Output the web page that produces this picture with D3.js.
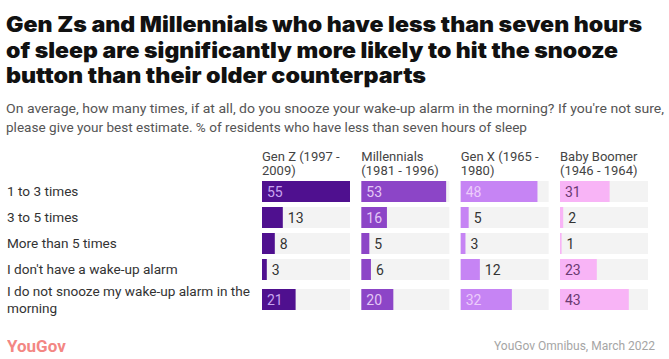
<!DOCTYPE html>
<html>
<head>
<meta charset="utf-8">
<script src="https://cdn.jsdelivr.net/npm/d3@7"></script>
<style>
  body { margin: 0; background: #fff; }
  svg { display: block; font-family: Roboto, "Liberation Sans", sans-serif; }
</style>
</head>
<body>
<svg id="chart" width="669" height="359"></svg>
<script>
const titleLines = [
  "Gen Zs and Millennials who have less than seven hours",
  "of sleep are significantly more likely to hit the snooze",
  "button than their older counterparts",
];
const subtitleLines = [
  "On average, how many times, if at all, do you snooze your wake-up alarm in the morning? If you're not sure,",
  "please give your best estimate. % of residents who have less than seven hours of sleep",
];
const answers = [
  ["1 to 3 times"],
  ["3 to 5 times"],
  ["More than 5 times"],
  ["I don't have a wake-up alarm"],
  ["I do not snooze my wake-up alarm in the", "morning"],
];
const generations = [
  ["Gen Z (1997 -", "2009)"],
  ["Millennials", "(1981 - 1996)"],
  ["Gen X (1965 -", "1980)"],
  ["Baby Boomer", "(1946 - 1964)"],
];
const genZ = [55, 13, 8, 3, 21];
const millennials = [53, 16, 5, 6, 20];
const genX = [48, 5, 3, 12, 32];
const babyBoomer = [31, 2, 1, 23, 43];
const source = "YouGov Omnibus, March 2022";

const series = [genZ, millennials, genX, babyBoomer];
const barColors = ["#4f108f", "#8c45c7", "#c684f4", "#f8b4f6"];
const insideText = ["#c8a4ef", "#e3c7f6", "#ecccfb", "#6b3a72"];

const svg = d3.select("#chart");

// title
svg.append("g")
  .selectAll("text")
  .data(titleLines)
  .join("text")
  .attr("x", 6)
  .attr("y", (d, i) => 32 + i * 25.5)
  .attr("font-family", "Inter, Roboto, sans-serif")
  .attr("font-weight", 900)
  .attr("font-size", 21)
  .attr("fill", "#111")
  .attr("textLength", (d, i) => [636, 612, 420][i])
  .attr("lengthAdjust", "spacingAndGlyphs")
  .text((d) => d);

svg.append("g")
  .selectAll("text")
  .data(subtitleLines)
  .join("text")
  .attr("x", 6)
  .attr("y", (d, i) => 113 + i * 18.5)
  .attr("font-size", 13)
  .attr("fill", "#555")
  .attr("textLength", (d, i) => [658, 521][i])
  .attr("lengthAdjust", "spacingAndGlyphs")
  .text((d) => d);

// layout
const rowTops = [181, 207, 233, 259, 289];
const barH = 21;
const colX = d3.scalePoint().domain(d3.range(4)).range([262, 560]);
const x = d3.scaleLinear().domain([0, 55]).range([0, 88]);

// headers
const head = svg.append("g")
  .selectAll("g")
  .data(generations)
  .join("g")
  .attr("transform", (d, i) => `translate(${colX(i)},0)`);
head.selectAll("text")
  .data((d) => d)
  .join("text")
  .attr("y", (d, i) => 161 + i * 14)
  .attr("font-size", 13)
  .attr("fill", "#444")
  .text((d) => d);

// row labels
const rows = svg.append("g")
  .selectAll("g")
  .data(answers)
  .join("g")
  .attr("transform", (d, i) => `translate(7,${rowTops[i] + barH / 2})`);
rows.selectAll("text")
  .data((d) => d)
  .join("text")
  .attr("y", (d, i, n) => (i - (n.length - 1) / 2) * 17 + 4.5)
  .attr("font-size", 13.6)
  .attr("fill", "#333")
  .text((d) => d);

// bars
series.forEach((vals, c) => {
  const g = svg.append("g").attr("transform", `translate(${colX(c)},0)`);
  g.selectAll("rect.track")
    .data(vals)
    .join("rect")
    .attr("class", "track")
    .attr("x", 0)
    .attr("y", (d, i) => rowTops[i])
    .attr("width", x(55))
    .attr("height", barH)
    .attr("fill", "#f3f3f3");
  g.selectAll("rect.bar")
    .data(vals)
    .join("rect")
    .attr("class", "bar")
    .attr("x", 0)
    .attr("y", (d, i) => rowTops[i])
    .attr("width", (d) => x(d))
    .attr("height", barH)
    .attr("fill", barColors[c]);
  g.selectAll("text")
    .data(vals)
    .join("text")
    .attr("x", (d) => (d >= 15 ? 5 : x(d) + 5))
    .attr("y", (d, i) => rowTops[i] + barH / 2 + 5)
    .attr("font-size", 14)
    .attr("fill", (d) => (d >= 15 ? insideText[c] : "#333"))
    .text((d) => d);
});

// footer
svg.append("text")
  .attr("x", 655)
  .attr("y", 350)
  .attr("text-anchor", "end")
  .attr("font-size", 12)
  .attr("fill", "#a5a5a5")
  .text(source);

svg.append("text")
  .attr("x", 7)
  .attr("y", 352)
  .attr("font-size", 17)
  .attr("font-weight", 700)
  .attr("fill", "#f0605a")
  .attr("opacity", 0.75)
  .text("YouGov");
</script>
</body>
</html>
